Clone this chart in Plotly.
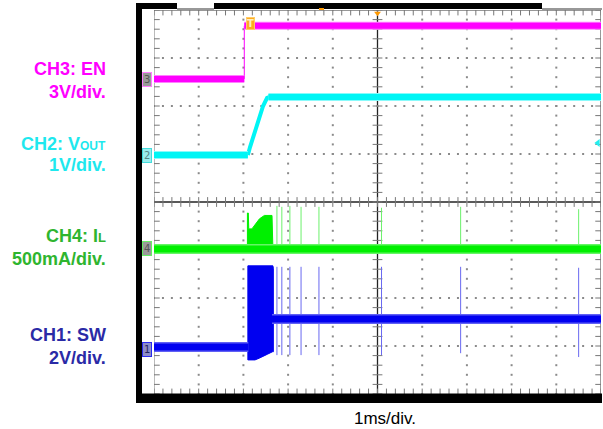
import plotly.graph_objects as go

# ---------------- data (x in ms = divisions, y in screen divisions) ----------------
EN_T = [0.0, 2.02, 2.02, 10.0]
EN_V = [6.56, 6.56, 7.67, 7.67]

VOUT_LOW_T = [0.0, 2.10]
VOUT_LOW_V = [4.98, 4.98]
VOUT_RAMP_T = [2.10, 2.15, 2.44, 2.53, 2.59]
VOUT_RAMP_V = [4.98, 5.15, 6.00, 6.17, 6.19]
VOUT_HIGH_T = [2.56, 10.0]
VOUT_HIGH_V = [6.19, 6.19]

IL_BASE_T = [0.0, 10.0]
IL_BASE_V = [3.02, 3.02]
IL_BURST_T = [2.09, 2.09, 2.11, 2.12, 2.19, 2.25, 2.36, 2.47, 2.64, 2.66, 2.09]
IL_BURST_V = [3.02, 3.77, 3.77, 3.44, 3.44, 3.52, 3.65, 3.72, 3.72, 3.02, 3.02]

SW_PRE_T = [0.0, 2.11]
SW_PRE_V = [0.98, 0.98]
SW_POST_T = [2.64, 10.0]
SW_POST_V = [1.56, 1.56]
SW_BURST_TOP_T = [2.10, 2.10, 2.66, 2.67]
SW_BURST_TOP_V = [0.71, 2.67, 2.67, 2.62]
SW_BURST_BOT_T = [2.67, 2.65, 2.54, 2.44, 2.35, 2.26, 2.10]
SW_BURST_BOT_V = [0.88, 0.88, 0.83, 0.78, 0.745, 0.71, 0.71]

SPIKE_T = [2.75, 2.86, 3.04, 3.29, 3.69, 5.09, 6.86, 9.50]
IL_SPIKE_TOP = [3.92, 3.90, 3.92, 3.90, 3.90, 3.88, 3.90, 3.85]
SW_SPIKE_TOP = [2.65, 2.65, 2.65, 2.65, 2.65, 2.65, 2.65, 2.63]
SW_SPIKE_BOT = [0.81, 0.81, 0.81, 0.81, 0.81, 0.81, 0.85, 0.77]

LABELS = [
    ("CH3: EN", 69, "#ff00ff"),
    ("3V/div.", 92, "#ff00ff"),
    ("CH2: V<span style='font-size:12px'>OUT</span>", 144, "#1ee8ee"),
    ("1V/div.", 165, "#1ee8ee"),
    ("CH4: I<span style='font-size:13px'>L</span>", 236, "#2fb52f"),
    ("500mA/div.", 259, "#2fb52f"),
    ("CH1: SW", 335, "#2a2aa6"),
    ("2V/div.", 358, "#2a2aa6"),
]

# ---------------- layout helpers ----------------
W, H = 603, 429
L, R, T, B = 154, 601, 10, 394


def px(x):
    return (x - L) / (R - L)


def py(y):
    return (B - y) / (B - T)


fig = go.Figure()

# graticule dots
gx, gy = [], []
for i in range(1, 10):
    if i == 5:
        continue
    for k in range(0, 41):
        gx.append(i)
        gy.append(k / 5)
for j in range(1, 8):
    if j == 4:
        continue
    for k in range(0, 51):
        gx.append(k / 5)
        gy.append(j)
fig.add_trace(go.Scatter(x=gx, y=gy, mode="markers",
                         marker=dict(size=2, color="#8a8a8a", symbol="square"),
                         hoverinfo="skip"))
# ticks on centre lines and borders
tx = [k / 5 for k in range(0, 51)]
fig.add_trace(go.Scatter(x=tx, y=[4] * len(tx), mode="markers",
                         marker=dict(size=7, symbol="line-ns", line=dict(width=1, color="#777")),
                         hoverinfo="skip"))
fig.add_trace(go.Scatter(x=tx, y=[7.96] * len(tx), mode="markers",
                         marker=dict(size=5, symbol="line-ns", line=dict(width=1, color="#777")),
                         hoverinfo="skip"))
fig.add_trace(go.Scatter(x=tx, y=[0.04] * len(tx), mode="markers",
                         marker=dict(size=5, symbol="line-ns", line=dict(width=1, color="#777")),
                         hoverinfo="skip"))
ty = [k / 5 for k in range(0, 41)]
fig.add_trace(go.Scatter(x=[5] * len(ty), y=ty, mode="markers",
                         marker=dict(size=7, symbol="line-ew", line=dict(width=1, color="#777")),
                         hoverinfo="skip"))
fig.add_trace(go.Scatter(x=[0.05] * len(ty), y=ty, mode="markers",
                         marker=dict(size=5, symbol="line-ew", line=dict(width=1, color="#777")),
                         hoverinfo="skip"))
fig.add_trace(go.Scatter(x=[9.95] * len(ty), y=ty, mode="markers",
                         marker=dict(size=5, symbol="line-ew", line=dict(width=1, color="#777")),
                         hoverinfo="skip"))

# ---------------- CH4 IL (green) ----------------
for t, top in zip(SPIKE_T, IL_SPIKE_TOP):
    fig.add_trace(go.Scatter(x=[t, t], y=[IL_BASE_V[0], top], mode="lines",
                             line=dict(color="#6cf06c", width=1), hoverinfo="skip"))
fig.add_trace(go.Scatter(x=IL_BURST_T, y=IL_BURST_V, mode="lines", fill="toself",
                         fillcolor="#00f000", line=dict(color="#00f000", width=1), hoverinfo="skip"))
fig.add_trace(go.Scatter(x=IL_BASE_T, y=IL_BASE_V, mode="lines",
                         line=dict(color="#66f566", width=10), hoverinfo="skip"))
fig.add_trace(go.Scatter(x=IL_BASE_T, y=IL_BASE_V, mode="lines",
                         line=dict(color="#00f000", width=7), hoverinfo="skip"))

# ---------------- CH1 SW (blue) ----------------
for t, top, bot in zip(SPIKE_T, SW_SPIKE_TOP, SW_SPIKE_BOT):
    fig.add_trace(go.Scatter(x=[t, t], y=[bot, top], mode="lines",
                             line=dict(color="#6868f0", width=1), hoverinfo="skip"))
fig.add_trace(go.Scatter(x=SW_BURST_TOP_T + SW_BURST_BOT_T, y=SW_BURST_TOP_V + SW_BURST_BOT_V,
                         mode="lines", fill="toself", fillcolor="#0000f0",
                         line=dict(color="#0000f0", width=1, shape="linear"), hoverinfo="skip"))
for xs, ys in [(SW_PRE_T, SW_PRE_V), (SW_POST_T, SW_POST_V)]:
    fig.add_trace(go.Scatter(x=xs, y=ys, mode="lines",
                             line=dict(color="#6060f5", width=10), hoverinfo="skip"))
    fig.add_trace(go.Scatter(x=xs, y=ys, mode="lines",
                             line=dict(color="#0000f0", width=7), hoverinfo="skip"))

# ---------------- CH2 VOUT (cyan) ----------------
fig.add_trace(go.Scatter(x=VOUT_RAMP_T, y=VOUT_RAMP_V, mode="lines",
                         line=dict(color="#00f5f5", width=4), hoverinfo="skip"))
for xs, ys in [(VOUT_LOW_T, VOUT_LOW_V), (VOUT_HIGH_T, VOUT_HIGH_V)]:
    fig.add_trace(go.Scatter(x=xs, y=ys, mode="lines",
                             line=dict(color="#88fbfb", width=8), hoverinfo="skip"))
    fig.add_trace(go.Scatter(x=xs, y=ys, mode="lines",
                             line=dict(color="#00f5f5", width=6), hoverinfo="skip"))

# ---------------- CH3 EN (magenta) ----------------
fig.add_trace(go.Scatter(x=EN_T[1:3], y=EN_V[1:3], mode="lines",
                         line=dict(color="#ff00ff", width=1), hoverinfo="skip"))
for xs, ys in [(EN_T[0:2], EN_V[0:2]), (EN_T[2:4], EN_V[2:4])]:
    fig.add_trace(go.Scatter(x=xs, y=ys, mode="lines",
                             line=dict(color="#ff80ff", width=8), hoverinfo="skip"))
    fig.add_trace(go.Scatter(x=xs, y=ys, mode="lines",
                             line=dict(color="#ff00ff", width=6), hoverinfo="skip"))

# cyan offscreen arrow on right, orange trigger level marker
fig.add_trace(go.Scatter(x=[9.93], y=[5.23], mode="markers",
                         marker=dict(symbol="triangle-left", size=7, color="#22eeee"),
                         hoverinfo="skip"))
fig.add_trace(go.Scatter(x=[5.0], y=[7.93], mode="markers",
                         marker=dict(symbol="triangle-down", size=6, color="#ff9900"),
                         hoverinfo="skip"))

# ---------------- frame shapes ----------------
shapes = []
black = "#000000"


def rect(x0, y0, x1, y1, color=black):
    shapes.append(dict(type="rect", xref="paper", yref="paper",
                       x0=px(x0), x1=px(x1), y0=py(y1), y1=py(y0),
                       fillcolor=color, line=dict(width=0), layer="above"))


rect(136, 3, 142, 403)
rect(136, 3, 177, 9)
rect(214, 3, 542, 9)
rect(136, 393.5, 602, 403)
rect(177, 8.5, 214, 9.5, "#333")
rect(542, 8.5, 602, 9.5, "#333")
rect(319, 8, 324, 10, "#ff9900")
# borders and centre lines (data coords)
shapes.append(dict(type="line", x0=0, x1=0, y0=0, y1=8, line=dict(color="#777", width=1), layer="below"))
shapes.append(dict(type="line", x0=10, x1=10, y0=0, y1=8, line=dict(color="#777", width=1.5), layer="below"))
shapes.append(dict(type="line", x0=0, x1=10, y0=8, y1=8, line=dict(color="#333", width=1), layer="below"))
shapes.append(dict(type="line", x0=5, x1=5, y0=0, y1=8, line=dict(color="#222", width=1.3), layer="below"))
shapes.append(dict(type="line", x0=0, x1=10, y0=4, y1=4, line=dict(color="#222", width=1.3), layer="below"))

# ---------------- annotations ----------------
ann = []
for txt, yy, col in LABELS:
    ann.append(dict(text=txt, xref="paper", yref="paper",
                    x=px(108), y=py(yy), xanchor="right", yanchor="middle",
                    showarrow=False,
                    font=dict(family="Liberation Sans, Arial, sans-serif", size=18,
                              color=col, weight="bold")))
ann.append(dict(text="1ms/div.", xref="paper", yref="paper", x=px(385), y=py(418),
                xanchor="center", yanchor="middle", showarrow=False,
                font=dict(family="Liberation Sans, Arial, sans-serif", size=17, color="#000")))

markers = [("3", 79, "#9a9a9a", "#ff80ff", "#555"),
           ("2", 155, "#99eeee", "#44dddd", "#558888"),
           ("4", 249, "#9a9a9a", "#66ee66", "#555"),
           ("1", 349, "#8c8cc8", "#2a2af0", "#222266")]
for txt, yy, bg, bd, fc in markers:
    ann.append(dict(text=txt, xref="paper", yref="paper", x=px(147), y=py(yy),
                    xanchor="center", yanchor="middle", showarrow=False,
                    bgcolor=bg, bordercolor=bd, borderwidth=1, borderpad=1,
                    font=dict(family="DejaVu Sans", size=10, color=fc)))
ann.append(dict(text="<b>T</b>", xref="x", yref="y", x=2.15, y=7.71,
                xanchor="center", yanchor="middle", showarrow=False,
                bgcolor="#ffaa22", bordercolor="#ffcc66", borderwidth=1, borderpad=0,
                font=dict(family="DejaVu Sans", size=10, color="#fff0c0")))

fig.update_layout(
    width=W, height=H,
    margin=dict(l=L, r=W - R, t=T, b=H - B),
    paper_bgcolor="white", plot_bgcolor="white",
    showlegend=False,
    xaxis=dict(range=[0, 10], visible=False, fixedrange=True),
    yaxis=dict(range=[0, 8], visible=False, fixedrange=True),
    shapes=shapes, annotations=ann,
)

fig.write_html("out.html")
